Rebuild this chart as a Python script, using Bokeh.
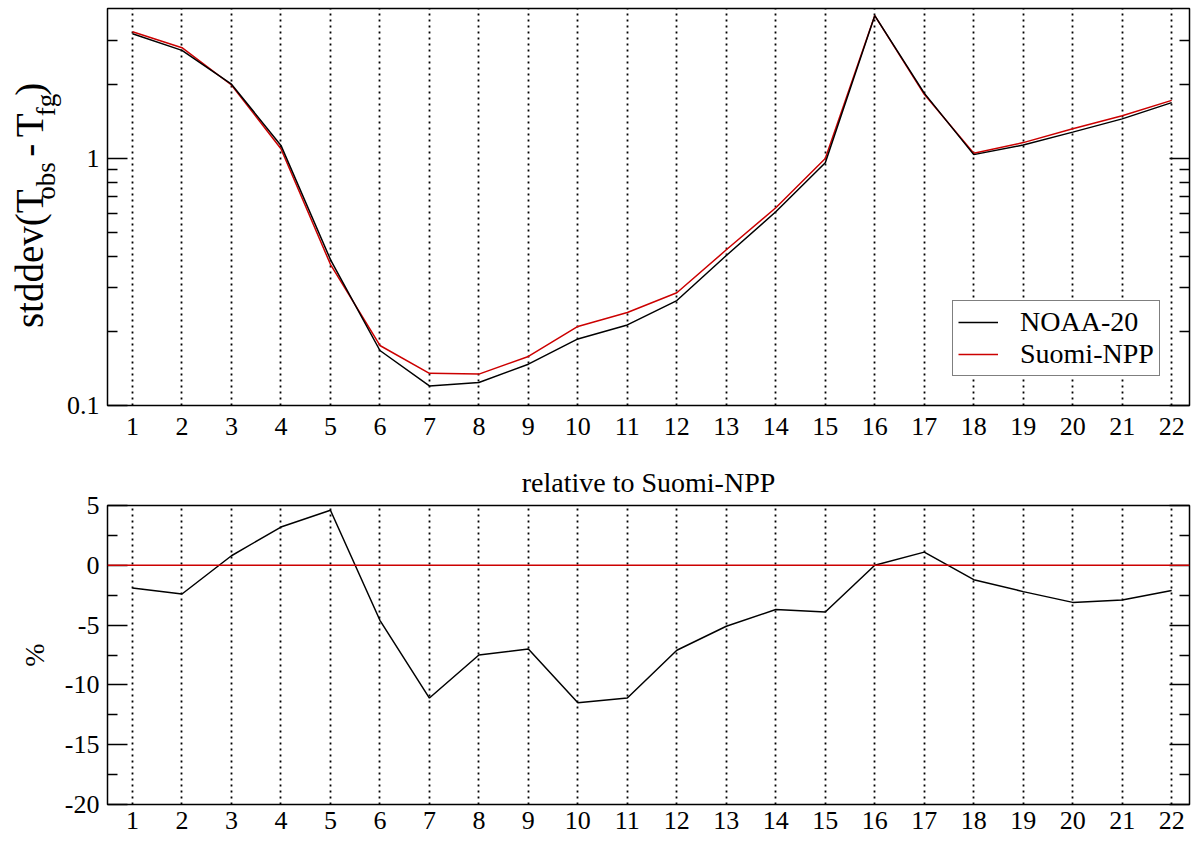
from bokeh.plotting import figure
from bokeh.models import (FixedTicker, LinearAxis, LogAxis, Range1d,
                          Legend, LegendItem, Span)
from bokeh.core.properties import value
from bokeh.layouts import column, row
from bokeh.embed import file_html
from bokeh.resources import INLINE
import math

# ---------------- data ----------------
channels = list(range(1, 23))
noaa20_std = [3.20, 2.74, 2.00, 1.13, 0.390, 0.167, 0.120, 0.124, 0.147, 0.186,
              0.212, 0.266, 0.405, 0.609, 0.961, 3.79, 1.84, 1.037, 1.134, 1.279,
              1.447, 1.684]
snpp_std = [3.26, 2.81, 1.985, 1.095, 0.373, 0.175, 0.135, 0.134, 0.158, 0.209,
            0.238, 0.286, 0.427, 0.632, 1.00, 3.79, 1.82, 1.05, 1.16, 1.32,
            1.49, 1.72]
rel_pct = [-1.9, -2.4, 0.8, 3.2, 4.6, -4.6, -11.1, -7.5, -7.0, -11.5, -11.1,
           -7.1, -5.1, -3.7, -3.9, 0.0, 1.1, -1.2, -2.2, -3.1, -2.9, -2.1]

y1_ticks = [0.1, 1]
y1_tick_labels = ["0.1", "1"]
y1_minor = [0.2, 0.3, 0.4, 0.5, 0.6, 0.7, 0.8, 0.9, 2, 3]
y2_ticks = [-20, -15, -10, -5, 0, 5]
y2_tick_labels = ["-20", "-15", "-10", "-5", "0", "5"]
y2_minor = [-17.5, -12.5, -7.5, -2.5, 2.5]

series_names = ["NOAA-20", "Suomi-NPP"]
title2 = "relative to Suomi-NPP"

# ---------------- style ----------------
FONT = "Liberation Serif"
RED = "#cc0000"
TICK_FS = "26px"
W = 1196
LAB_W = 62
FRAME_LEFT = 107
H1 = 450
H2 = 391


def style_common(p):
    p.background_fill_color = "white"
    p.border_fill_color = "white"
    p.outline_line_color = "black"
    p.outline_line_width = 1.5
    p.xgrid.ticker = FixedTicker(ticks=channels)
    p.xgrid.grid_line_color = "black"
    p.xgrid.grid_line_dash = "2 4"
    p.xgrid.grid_line_width = 1.8
    p.ygrid.visible = False
    p.xaxis.ticker = FixedTicker(ticks=channels)
    p.xaxis.major_tick_in = 0
    p.xaxis.major_tick_out = 0
    p.xaxis.minor_tick_in = 0
    p.xaxis.minor_tick_out = 0
    p.xaxis.axis_line_color = None
    p.xaxis.major_label_text_font = FONT
    p.xaxis.major_label_text_font_size = TICK_FS
    p.xaxis.major_label_text_color = "black"


def style_yaxis(ax, ticks, labels, minor, show_labels=True):
    ax.ticker = FixedTicker(ticks=ticks, minor_ticks=minor)
    ax.major_tick_in = 20
    ax.major_tick_out = 0
    ax.minor_tick_in = 10
    ax.minor_tick_out = 0
    ax.major_tick_line_width = 1.5
    ax.minor_tick_line_width = 1.5
    ax.major_tick_line_color = "black"
    ax.minor_tick_line_color = "black"
    ax.axis_line_color = None
    ax.major_label_text_font = FONT
    ax.major_label_text_font_size = TICK_FS
    ax.major_label_text_color = "black"
    ax.major_label_standoff = 8
    if show_labels:
        ax.major_label_overrides = {t: l for t, l in zip(ticks, labels)}
    else:
        ax.major_label_overrides = {t: "" for t in ticks}
        ax.major_label_standoff = 0


# ---------------- y-label strip (rotated text with subscripts) ----------------
lab = figure(width=LAB_W, height=H1, x_range=Range1d(0, LAB_W),
             y_range=Range1d(0, H1), output_backend="svg", toolbar_location=None,
             x_axis_location=None, y_axis_location=None, min_border=0)
lab.grid.visible = False
lab.outline_line_color = None
lab.background_fill_color = "white"
lab.border_fill_color = "white"

W_EM = {'s': .389, 't': .278, 'd': .5, 'e': .444, 'v': .5, '(': .333, ')': .333,
        'T': .611, 'o': .5, 'b': .5, '-': .333, 'f': .333, 'g': .5, ' ': .25}
MAIN_FS, SUB_FS = 39, 27
MAIN_BASE, SUB_BASE = 42, 55          # baseline positions (px from left)
pieces = [("stddev(T", "main"), ("obs", "sub"), (" ", "main"), ("-", "main"),
          (" ", "main"), ("T", "main"), ("fg", "sub"), (")", "main")]
main_x, main_y, main_t = [], [], []
sub_x, sub_y, sub_t = [], [], []
pos = H1 - 353.0
for txt, kind in pieces:
    fs = MAIN_FS if kind == "main" else SUB_FS
    w = sum(W_EM[c] for c in txt) * fs
    if txt.strip():
        mid = (MAIN_BASE if kind == "main" else SUB_BASE) - 0.3375 * fs
        if kind == "main":
            main_x.append(mid); main_y.append(pos + w / 2); main_t.append(txt)
        else:
            sub_x.append(mid); sub_y.append(pos + w / 2); sub_t.append(txt)
    pos += w
lab.text(x=main_x, y=main_y, text=main_t, angle=math.pi / 2,
         text_font=value(FONT), text_font_size=f"{MAIN_FS}px", text_color="black",
         text_baseline="middle", text_align="center")
lab.text(x=sub_x, y=sub_y, text=sub_t, angle=math.pi / 2,
         text_font=value(FONT), text_font_size=f"{SUB_FS}px", text_color="black",
         text_baseline="middle", text_align="center")

# ---------------- top panel ----------------
x_range = Range1d(0.495, 22.36)
p1 = figure(width=W - LAB_W, height=H1, x_range=x_range, y_range=Range1d(0.1, 4.05),
            y_axis_type="log", output_backend="svg", toolbar_location=None,
            min_border_left=FRAME_LEFT - LAB_W, min_border_right=7, min_border_top=8,
            min_border_bottom=45)
style_common(p1)
p1.xaxis.major_label_standoff = 12
style_yaxis(p1.yaxis[0], y1_ticks, y1_tick_labels, y1_minor)
rax1 = LogAxis()
style_yaxis(rax1, y1_ticks, y1_tick_labels, y1_minor, show_labels=False)
p1.add_layout(rax1, "right")

r_snpp = p1.line(channels, snpp_std, line_color=RED, line_width=1.5)
r_noaa = p1.line(channels, noaa20_std, line_color="black", line_width=1.5)

legend = Legend(items=[LegendItem(label=series_names[0], renderers=[r_noaa]),
                       LegendItem(label=series_names[1], renderers=[r_snpp])],
                location=(845, 29))
legend.label_text_font = FONT
legend.label_text_font_size = "28px"
legend.label_text_color = "black"
legend.border_line_color = "black"
legend.border_line_width = 1.5
legend.background_fill_color = "white"
legend.background_fill_alpha = 1.0
legend.padding = 5
legend.spacing = 0
legend.margin = 0
legend.glyph_width = 40
legend.glyph_height = 26
legend.label_height = 26
legend.label_standoff = 22
p1.add_layout(legend, "center")

# ---------------- bottom panel ----------------
p2 = figure(width=W, height=H2, x_range=x_range, y_range=Range1d(-20, 5),
            output_backend="svg", toolbar_location=None,
            min_border_left=FRAME_LEFT, min_border_right=7, min_border_top=55,
            min_border_bottom=37)
style_common(p2)
p2.xaxis.major_label_standoff = 7
style_yaxis(p2.yaxis[0], y2_ticks, y2_tick_labels, y2_minor)
p2.yaxis[0].axis_label = "%"
p2.yaxis[0].axis_label_text_font = FONT
p2.yaxis[0].axis_label_text_font_size = "28px"
p2.yaxis[0].axis_label_text_font_style = "normal"
p2.yaxis[0].axis_label_text_color = "black"
p2.yaxis[0].axis_label_standoff = 12
rax2 = LinearAxis()
style_yaxis(rax2, y2_ticks, y2_tick_labels, y2_minor, show_labels=False)
p2.add_layout(rax2, "right")

p2.title.text = title2
p2.title.align = "center"
p2.title.text_font = FONT
p2.title.text_font_size = "28px"
p2.title.text_font_style = "normal"
p2.title.text_color = "black"
p2.title.standoff = 16

p2.add_layout(Span(location=0, dimension="width", line_color=RED, line_width=1.5))
p2.line(channels, rel_pct, line_color="black", line_width=1.5)

layout = column(row(lab, p1, spacing=0), p2, spacing=0)
open("out.html", "w").write(file_html(layout, INLINE))
